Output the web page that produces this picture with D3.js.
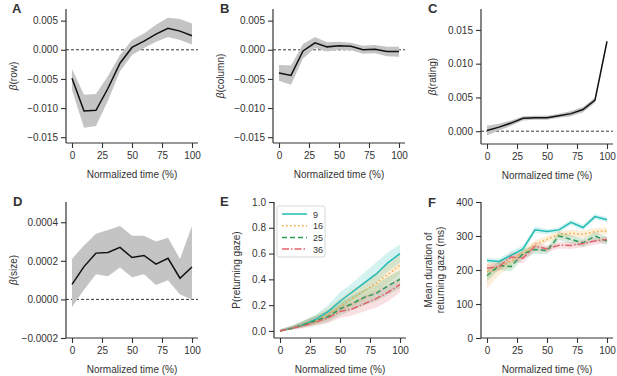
<!DOCTYPE html>
<html>
<head>
	<style>
		body, html { margin: 0; padding: 0; background: #fff; }
		text { font-family: "Liberation Sans", Arial, sans-serif; fill: #333; }
	</style>
</head>
<body>
	<svg id="svg" width="617" height="376"></svg>
	<script src="https://d3js.org/d3.v7.min.js"></script>
	<script>
		// Normalized time points (%)
		const times = [0, 10, 20, 30, 40, 50, 60, 70, 80, 90, 100]
		const xTicks = [0, 25, 50, 75, 100]

		// A: beta(row)
		const rowMean = [-0.0049, -0.0105, -0.0104, -0.0066, -0.0023, 0.0004, 0.0015, 0.0027, 0.0037, 0.0032, 0.0024]
		const rowHi = [-0.0033, -0.0077, -0.0076, -0.0045, -0.0009, 0.0017, 0.0028, 0.0043, 0.0055, 0.0053, 0.0045]
		const rowLo = [-0.0069, -0.0134, -0.0131, -0.0087, -0.0037, -0.0009, 0.0003, 0.0014, 0.0022, 0.0017, 0.0009]

		// B: beta(column)
		const colMean = [-0.0040, -0.0044, -0.0002, 0.0012, 0.0005, 0.0007, 0.0006, 0.0000, 0.0001, -0.0003, -0.0003]
		const colHi = [-0.0026, -0.0027, 0.0010, 0.0022, 0.0013, 0.0014, 0.0012, 0.0007, 0.0008, 0.0005, 0.0005]
		const colLo = [-0.0053, -0.0060, -0.0015, 0.0003, -0.0003, 0.0000, -0.0001, -0.0007, -0.0006, -0.0011, -0.0012]

		// C: beta(rating)
		const ratMean = [0.0001, 0.0006, 0.0012, 0.0019, 0.0020, 0.0020, 0.0023, 0.0026, 0.0032, 0.0046, 0.0133]
		const ratHi = [0.0008, 0.0011, 0.0016, 0.0022, 0.0023, 0.0023, 0.0026, 0.0030, 0.0036, 0.0050, 0.0137]
		const ratLo = [-0.0006, 0.0001, 0.0008, 0.0016, 0.0017, 0.0017, 0.0020, 0.0022, 0.0028, 0.0042, 0.0129]

		// D: beta(size)
		const sizeMean = [0.000078, 0.00017, 0.00024, 0.000243, 0.00027, 0.000217, 0.000228, 0.000183, 0.000213, 0.00011, 0.000168]
		const sizeHi = [0.00021, 0.00028, 0.00034, 0.00036, 0.00038, 0.00033, 0.00033, 0.0003, 0.00032, 0.00021, 0.00038]
		const sizeLo = [-0.00004, 0.00005, 0.00013, 0.00012, 0.000165, 0.000115, 0.00013, 0.000075, 0.0001, 0.000025, 0.0]

		// E / F: set sizes
		const setSizes = ['9', '16', '25', '36']
		const setColors = ['#22bdb6', '#f2a93b', '#2f9a55', '#e0646e']
		const setDash = [null, '1.5,2.5', '5,3', '7,2,1.5,2']

		const pMean = [
			[0, 0.02, 0.05, 0.09, 0.15, 0.23, 0.30, 0.37, 0.44, 0.53, 0.60],
			[0, 0.02, 0.05, 0.08, 0.13, 0.19, 0.25, 0.31, 0.37, 0.44, 0.51],
			[0, 0.02, 0.05, 0.08, 0.11, 0.17, 0.21, 0.26, 0.29, 0.35, 0.40],
			[0, 0.02, 0.04, 0.07, 0.10, 0.15, 0.17, 0.21, 0.25, 0.30, 0.36]
		]
		const pHi = [
			[0.01, 0.04, 0.08, 0.13, 0.20, 0.30, 0.37, 0.45, 0.53, 0.61, 0.67],
			[0.01, 0.04, 0.08, 0.12, 0.18, 0.25, 0.32, 0.38, 0.45, 0.52, 0.59],
			[0.01, 0.04, 0.08, 0.12, 0.16, 0.22, 0.27, 0.32, 0.36, 0.42, 0.47],
			[0.01, 0.04, 0.07, 0.11, 0.14, 0.19, 0.22, 0.27, 0.31, 0.36, 0.42]
		]
		const pLo = [
			[0, 0.01, 0.03, 0.06, 0.10, 0.17, 0.24, 0.30, 0.37, 0.46, 0.53],
			[0, 0.01, 0.03, 0.05, 0.09, 0.14, 0.19, 0.24, 0.30, 0.37, 0.44],
			[0, 0.01, 0.03, 0.05, 0.07, 0.12, 0.16, 0.20, 0.23, 0.28, 0.33],
			[0, 0.01, 0.02, 0.04, 0.06, 0.10, 0.12, 0.15, 0.18, 0.23, 0.30]
		]

		const durMean = [
			[228, 225, 243, 262, 318, 313, 318, 340, 325, 357, 348],
			[195, 205, 228, 250, 275, 290, 305, 308, 305, 313, 315],
			[183, 213, 210, 248, 260, 257, 300, 290, 280, 300, 285],
			[205, 210, 238, 235, 270, 262, 273, 272, 278, 285, 290]
		]
		const durHi = [
			[235, 233, 255, 272, 328, 320, 326, 348, 333, 365, 355],
			[220, 225, 245, 262, 287, 300, 315, 318, 316, 323, 326],
			[200, 225, 225, 262, 272, 268, 312, 302, 292, 312, 297],
			[218, 222, 252, 250, 282, 272, 283, 282, 288, 295, 300]
		]
		const durLo = [
			[221, 217, 232, 252, 308, 306, 310, 332, 317, 349, 341],
			[145, 185, 212, 238, 263, 280, 295, 298, 294, 303, 305],
			[166, 201, 196, 234, 248, 246, 288, 278, 268, 288, 273],
			[192, 198, 224, 220, 258, 252, 263, 262, 268, 275, 280]
		]

		const svg = d3.select('#svg')

		// Draw one panel: axes, optional zero line, bands and lines
		function panel(p) {
			const x = d3.scaleLinear().domain([-5, 105]).range([p.left, p.left + 132])
			const y = d3.scaleLinear().domain(p.yDomain).range([p.bottom, p.top])
			const g = svg.append('g')

			// zero reference line
			if (p.zero) {
				g.append('line')
					.attr('x1', x(-5)).attr('x2', x(105))
					.attr('y1', y(0)).attr('y2', y(0))
					.attr('stroke', '#222').attr('stroke-width', 0.9)
					.attr('stroke-dasharray', '3,2')
			}

			const area = d3.area()
				.x((d, i) => x(times[i]))
				.y0(d => y(d[0]))
				.y1(d => y(d[1]))
			const line = d3.line()
				.x((d, i) => x(times[i]))
				.y(d => y(d))

			p.series.forEach(s => {
				g.append('path')
					.attr('d', area(s.lo.map((v, i) => [v, s.hi[i]])))
					.attr('fill', s.band)
					.attr('fill-opacity', s.bandOpacity)
			})
			p.series.forEach(s => {
				g.append('path')
					.attr('d', line(s.mean))
					.attr('fill', 'none')
					.attr('stroke', s.color)
					.attr('stroke-width', 1.5)
					.attr('stroke-dasharray', s.dash)
			})

			// axes
			const xAxis = g.append('g')
				.attr('transform', `translate(0,${p.bottom})`)
				.call(d3.axisBottom(x).tickValues(xTicks).tickSize(5).tickPadding(4))
			const yAxis = g.append('g')
				.attr('transform', `translate(${p.left},0)`)
				.call(d3.axisLeft(y).tickValues(p.yTicks).tickFormat(p.fmt).tickSize(5).tickPadding(3))
			;[xAxis, yAxis].forEach(a => {
				a.select('.domain').attr('stroke', '#333').attr('stroke-width', 1.2)
					.attr('d', a === xAxis ? `M${p.left},0H${p.left + 132}` : `M0,${p.top}V${p.bottom}`)
				a.selectAll('.tick line').attr('stroke', '#333').attr('stroke-width', 1.1)
				a.selectAll('text').attr('font-size', 10).attr('fill', '#333')
					.style('font-family', '"Liberation Sans", Arial, sans-serif')
			})

			// x label
			g.append('text')
				.attr('x', x(50)).attr('y', p.bottom + 35)
				.attr('text-anchor', 'middle').attr('font-size', 10)
				.text('Normalized time (%)')

			// y label
			const mid = (p.top + p.bottom) / 2
			const yl = g.append('text')
				.attr('transform', `translate(${p.yLabelX},${mid}) rotate(-90)`)
				.attr('text-anchor', 'middle').attr('font-size', 10)
			if (p.beta) {
				yl.append('tspan').attr('font-style', 'italic').text('β')
				yl.append('tspan').text(p.yLabel)
			} else if (Array.isArray(p.yLabel)) {
				p.yLabel.forEach((t, i) => {
					yl.append('tspan').attr('x', 0).attr('dy', i === 0 ? 0 : 12).text(t)
				})
			} else {
				yl.text(p.yLabel)
			}

			// panel letter
			svg.append('text')
				.attr('x', p.letterX).attr('y', p.letterY)
				.attr('font-size', 13).attr('font-weight', 'bold').attr('fill', '#222')
				.text(p.letter)

			return { x, y, g }
		}

		const gray = (mean, hi, lo) => [{ mean, hi, lo, color: '#111', band: '#c4c4c4', bandOpacity: 1, dash: null }]
		const fmt3 = d3.format('.3f')
		const fmt4 = d3.format('.4f')
		const fmtMinus = f => v => f(v).replace('−', '−')

		panel({ letter: 'A', letterX: 12, letterY: 13, left: 66, top: 9, bottom: 143, yDomain: [-0.016, 0.007],
			yTicks: [-0.015, -0.010, -0.005, 0, 0.005], fmt: fmtMinus(fmt3), zero: true,
			yLabel: '(row)', beta: true, yLabelX: 17, series: gray(rowMean, rowHi, rowLo) })

		panel({ letter: 'B', letterX: 220, letterY: 13, left: 273, top: 9, bottom: 143, yDomain: [-0.016, 0.007],
			yTicks: [-0.015, -0.010, -0.005, 0, 0.005], fmt: fmtMinus(fmt3), zero: true,
			yLabel: '(column)', beta: true, yLabelX: 224, series: gray(colMean, colHi, colLo) })

		panel({ letter: 'C', letterX: 428, letterY: 13, left: 481, top: 9, bottom: 144, yDomain: [-0.0019, 0.0181],
			yTicks: [0, 0.005, 0.010, 0.015], fmt: fmt3, zero: true,
			yLabel: '(rating)', beta: true, yLabelX: 436, series: gray(ratMean, ratHi, ratLo) })

		panel({ letter: 'D', letterX: 13, letterY: 206, left: 66, top: 202, bottom: 338, yDomain: [-0.0002, 0.000505],
			yTicks: [-0.0002, 0, 0.0002, 0.0004], fmt: fmtMinus(fmt4), zero: true,
			yLabel: '(size)', beta: true, yLabelX: 17, series: gray(sizeMean, sizeHi, sizeLo) })

		const colored = (mean, hi, lo) => setSizes.map((s, i) => ({
			mean: mean[i], hi: hi[i], lo: lo[i], color: setColors[i], band: setColors[i], bandOpacity: 0.2, dash: setDash[i]
		}))

		const e = panel({ letter: 'E', letterX: 220, letterY: 206, left: 274, top: 202, bottom: 338, yDomain: [-0.055, 1.0],
			yTicks: [0, 0.2, 0.4, 0.6, 0.8, 1.0], fmt: d3.format('.1f'), zero: false,
			yLabel: 'P(returning gaze)', beta: false, yLabelX: 240, series: colored(pMean, pHi, pLo) })

		panel({ letter: 'F', letterX: 428, letterY: 207, left: 481, top: 202, bottom: 338, yDomain: [0, 400],
			yTicks: [0, 100, 200, 300, 400], fmt: d3.format('d'), zero: false,
			yLabel: ['Mean duration of', 'returning gaze (ms)'], beta: false, yLabelX: 432, series: colored(durMean, durHi, durLo) })

		// legend in panel E
		const leg = svg.append('g').attr('transform', 'translate(277,206)')
		leg.append('rect').attr('width', 48).attr('height', 51).attr('rx', 2)
			.attr('fill', '#fff').attr('fill-opacity', 0.85).attr('stroke', '#ccc').attr('stroke-width', 0.8)
		setSizes.forEach((s, i) => {
			const yy = 8 + i * 11.7
			leg.append('line').attr('x1', 5).attr('x2', 30).attr('y1', yy).attr('y2', yy)
				.attr('stroke', setColors[i]).attr('stroke-width', 1.5).attr('stroke-dasharray', setDash[i])
			leg.append('text').attr('x', 36).attr('y', yy + 3.5).attr('font-size', 9).text(s)
		})
	</script>
</body>
</html>
